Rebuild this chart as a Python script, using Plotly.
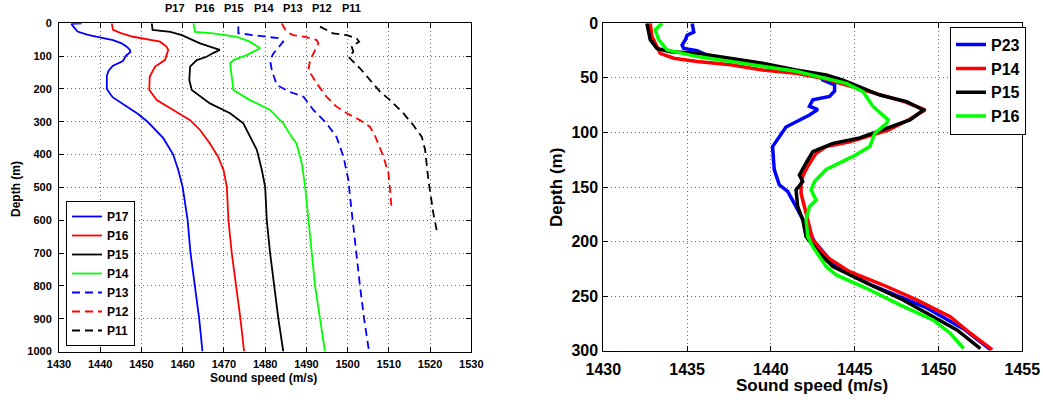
import plotly.graph_objects as go

W, H = 1043, 400

# ---------------- Left panel: sound speed profiles P17..P11 ----------------
P17_DEPTH = [0, 2, 10, 25, 35, 42, 51, 61, 72, 81, 88, 98, 115, 130, 145, 160, 200, 225, 250, 275, 300, 325, 350, 400, 450, 500, 550, 600, 700, 800, 900, 1000]
P17_SPEED = [1435.5, 1433, 1433.5, 1434.5, 1437, 1440, 1443.1, 1445.2, 1446.5, 1447.2, 1447.3, 1446.3, 1445.5, 1443, 1442, 1441.6, 1441.6, 1443, 1446, 1449, 1451.5, 1453.5, 1455.3, 1457.7, 1459, 1460, 1460.6, 1461.2, 1461.9, 1463, 1464, 1464.8]

P16_DEPTH = [0, 20, 30, 41, 56, 70, 81, 95, 112, 132, 163, 203, 234, 264, 295, 325, 346, 366, 407, 447, 498, 600, 700, 800, 900, 1000]
P16_SPEED = [1442.8, 1443.1, 1445, 1448, 1454.5, 1456, 1456.5, 1456.2, 1455.7, 1453.3, 1452, 1451.9, 1453.7, 1457.7, 1461.8, 1464.2, 1465.4, 1466.6, 1468.6, 1469.9, 1470.7, 1471.1, 1471.9, 1473, 1474, 1474.9]

P15_DEPTH = [0, 20, 26, 36, 61, 71, 81, 90, 102, 112, 132, 173, 203, 244, 274, 305, 346, 386, 447, 498, 600, 700, 800, 900, 1000]
P15_SPEED = [1452.5, 1452.7, 1457, 1459.8, 1464.2, 1466.6, 1469, 1467.5, 1465.8, 1463.4, 1461.8, 1461.6, 1462.2, 1466.6, 1471.5, 1474.7, 1476.3, 1478, 1479.2, 1480, 1480.4, 1481.2, 1482.2, 1483.2, 1484.4]

P14_DEPTH = [0, 26, 31, 41, 56, 76, 97, 112, 122, 163, 203, 234, 264, 305, 346, 366, 427, 498, 600, 700, 800, 900, 1000]
P14_SPEED = [1462.6, 1463, 1467.4, 1473.1, 1476.3, 1478.8, 1475.5, 1472.3, 1471.5, 1471.9, 1472.3, 1476.3, 1481.2, 1484.4, 1486.4, 1487.6, 1488.9, 1489.7, 1490.5, 1491.3, 1492.1, 1493.3, 1494.5]

P13_DEPTH = [10, 30, 36, 46, 56, 92, 112, 142, 188, 209, 224, 264, 305, 346, 407, 478, 529, 600, 700, 800, 900, 1000]
P13_SPEED = [1473.5, 1473.5, 1477.1, 1483.6, 1484.4, 1482, 1481.2, 1481.6, 1482.8, 1486, 1489.3, 1491.7, 1494.9, 1497.3, 1499, 1500.2, 1500.6, 1501.2, 1502, 1503, 1504, 1505.2]

P12_DEPTH = [0, 26, 36, 41, 51, 61, 92, 112, 142, 183, 224, 254, 274, 295, 315, 341, 407, 457, 508, 569]
P12_SPEED = [1484, 1485.2, 1486.8, 1489.7, 1492.5, 1492.9, 1491.7, 1490.9, 1490.5, 1492.5, 1494.9, 1497.3, 1499.8, 1503, 1505.4, 1506.6, 1508.7, 1509.9, 1510.3, 1510.7]

P11_DEPTH = [10, 31, 36, 46, 56, 71, 87, 102, 137, 173, 209, 234, 274, 310, 346, 386, 478, 579, 630]
P11_SPEED = [1493.3, 1496.5, 1499.8, 1502.2, 1502.8, 1501, 1501.4, 1500.2, 1503, 1505.4, 1507.9, 1510.3, 1513.5, 1515.9, 1518, 1518.8, 1519.6, 1520.8, 1521.6]

LEFT_NAMES = ["P17", "P16", "P15", "P14", "P13", "P12", "P11"]
TOP_LABELS = ["P17", "P16", "P15", "P14", "P13", "P12", "P11"]

# ---------------- Right panel: upper 300 m ----------------
P23_DEPTH = [0, 8, 11, 15, 20, 23, 25, 30, 35, 40, 45, 50, 52, 56.5, 62, 67, 70, 76, 79, 84, 89, 95, 113, 134, 148, 154, 168, 177, 200, 220, 240, 260, 280, 299]
P23_SPEED = [1435.3, 1435.4, 1435, 1434.9, 1434.7, 1434.8, 1435.6, 1436.3, 1438.2, 1440, 1441.8, 1443, 1443.1, 1443.8, 1443.8, 1443.5, 1442.5, 1442.3, 1442.8, 1442.3, 1441.7, 1440.9, 1440.1, 1440.2, 1440.5, 1441, 1441.5, 1441.8, 1442.6, 1443.7, 1446, 1449.2, 1451.5, 1453.1]

P14R_DEPTH = [0, 12, 27.5, 32, 35, 38, 42.8, 45.8, 50.4, 61, 66, 72, 79.4, 88.6, 97.8, 104, 108.5, 113, 119, 131, 140, 148, 156, 168, 180, 198.5, 213.8, 227.6, 239.8, 253.5, 268.8, 284, 299]
P14R_SPEED = [1432.8, 1432.9, 1433.4, 1434.2, 1435.6, 1437.6, 1439.5, 1441.5, 1443.1, 1445.5, 1446.5, 1448, 1449.2, 1448.2, 1447, 1445.6, 1444.7, 1443.3, 1442.7, 1442.2, 1441.9, 1441.8, 1441.8, 1442, 1442.2, 1442.5, 1443.3, 1444.7, 1446.7, 1448.7, 1450.7, 1451.9, 1453.2]

P15R_DEPTH = [0, 15, 23, 26, 27.5, 32, 36.6, 42.8, 47.4, 52, 59.5, 65.7, 71.8, 79.4, 88.6, 96, 105, 110, 117.6, 128, 139, 145, 152.7, 168, 180, 195.5, 210.7, 223, 238, 252, 268.8, 281, 298]
P15R_SPEED = [1432.6, 1432.8, 1433.2, 1434, 1435.6, 1437.6, 1439.5, 1441.5, 1443.3, 1444.3, 1445.5, 1446.5, 1448.1, 1449.1, 1448.3, 1447, 1445.3, 1443.7, 1442.5, 1442.1, 1441.7, 1441.9, 1441.5, 1441.6, 1441.9, 1442.1, 1442.9, 1443.7, 1445.7, 1447.7, 1449.7, 1451.1, 1452.5]

P16R_DEPTH = [0, 6, 15, 24.5, 30.5, 35, 39.8, 44, 55, 62.7, 76.4, 88.6, 91.6, 100.8, 113, 122, 134, 145, 152.7, 162, 168, 180, 195.5, 204.7, 223, 230.6, 242.8, 258, 272, 284, 298]
P16R_SPEED = [1433.5, 1433.1, 1433.3, 1433.8, 1435.6, 1437.6, 1439.5, 1441.5, 1444.5, 1445.5, 1446.1, 1447, 1446.9, 1446.2, 1445.9, 1444.9, 1443.3, 1442.6, 1442.4, 1442.7, 1442.3, 1442.1, 1442.2, 1442.5, 1443.3, 1443.9, 1445.7, 1447.7, 1449.7, 1450.7, 1451.5]

RIGHT_NAMES = ["P23", "P14", "P15", "P16"]

# ---------------- styling ----------------
FONT = "Arial, Liberation Sans, Helvetica, sans-serif"
BLUE, RED, BLACK, GREEN = "#0000FF", "#FF0000", "#000000", "#00FF00"
DASH = "8px,5px"

left_series = [
    (P17_DEPTH, P17_SPEED, BLUE, "solid"),
    (P16_DEPTH, P16_SPEED, RED, "solid"),
    (P15_DEPTH, P15_SPEED, BLACK, "solid"),
    (P14_DEPTH, P14_SPEED, GREEN, "solid"),
    (P13_DEPTH, P13_SPEED, BLUE, DASH),
    (P12_DEPTH, P12_SPEED, RED, DASH),
    (P11_DEPTH, P11_SPEED, BLACK, DASH),
]
right_series = [
    (P23_DEPTH, P23_SPEED, BLUE),
    (P14R_DEPTH, P14R_SPEED, RED),
    (P15R_DEPTH, P15R_SPEED, BLACK),
    (P16R_DEPTH, P16R_SPEED, GREEN),
]

fig = go.Figure()
for name, (d, v, c, dash) in zip(LEFT_NAMES, left_series):
    fig.add_trace(go.Scatter(x=v, y=d, mode="lines", name=name,
                             line=dict(color=c, width=1.8, dash=dash),
                             xaxis="x", yaxis="y", legend="legend"))
for name, (d, v, c) in zip(RIGHT_NAMES, right_series):
    fig.add_trace(go.Scatter(x=v, y=d, mode="lines", name=name,
                             line=dict(color=c, width=3.5),
                             xaxis="x2", yaxis="y2", legend="legend2"))

# plot-area geometry in pixels
L_X0, L_X1, L_Y0, L_Y1 = 59, 471.3, 23.3, 351.5
R_X0, R_X1, R_Y0, R_Y1 = 603.3, 1022.3, 23.3, 350.7

def px_x(p):
    return p / W

def px_y(p):
    return 1 - p / H

common_axis = dict(showline=True, linecolor="black", linewidth=1, mirror="ticks",
                   ticks="inside", ticklen=5, tickcolor="black", automargin=False,
                   showgrid=True, gridcolor="#6a6a6a", gridwidth=1, griddash="1px,3px",
                   zeroline=False, showspikes=False)

fig.update_layout(
    template="none",
    width=W, height=H, autosize=False,
    margin=dict(l=0, r=0, t=0, b=0, autoexpand=False),
    paper_bgcolor="white", plot_bgcolor="white",
    font=dict(family=FONT, color="black"),
    xaxis=dict(domain=[px_x(L_X0), px_x(L_X1)], range=[1430, 1530], dtick=10, anchor="y",
               tickfont=dict(size=11, weight="bold"), ticklabelstandoff=2, **common_axis),
    yaxis=dict(domain=[px_y(L_Y1), px_y(L_Y0)], range=[1000, 0], dtick=100, anchor="x",
               tickfont=dict(size=11, weight="bold"), ticklabelstandoff=4, **common_axis),
    xaxis2=dict(domain=[px_x(R_X0), px_x(R_X1)], range=[1430, 1455], dtick=5, anchor="y2",
                tickfont=dict(size=16, weight="bold"), ticklabelstandoff=4, **common_axis),
    yaxis2=dict(domain=[px_y(R_Y1), px_y(R_Y0)], range=[300, 0], dtick=50, anchor="x2",
                tickfont=dict(size=16, weight="bold"), ticklabelstandoff=1, **common_axis),
    showlegend=True,
    legend=dict(x=px_x(66), y=px_y(346), xanchor="left", yanchor="bottom",
                bgcolor="white", bordercolor="black", borderwidth=1,
                font=dict(size=12, weight="bold", family=FONT), tracegroupgap=0,
                itemclick=False, itemdoubleclick=False),
    legend2=dict(x=px_x(950), y=px_y(26.7), xanchor="left", yanchor="top",
                 bgcolor="white", bordercolor="black", borderwidth=1,
                 font=dict(size=16, weight="bold", family=FONT), tracegroupgap=0,
                 itemclick=False, itemdoubleclick=False),
)

annotations = []
# labels above the left panel
for i, lab in enumerate(TOP_LABELS):
    annotations.append(dict(text=lab, xref="paper", yref="paper",
                            x=px_x(175.3 + i * 29.4), y=px_y(8.5),
                            showarrow=False, xanchor="center", yanchor="middle",
                            font=dict(size=11, weight="bold")))
# axis titles
annotations += [
    dict(text="Sound speed (m/s)", xref="paper", yref="paper", x=px_x(263), y=px_y(378),
         showarrow=False, xanchor="center", yanchor="middle", font=dict(size=12, weight="bold")),
    dict(text="Depth (m)", xref="paper", yref="paper", x=px_x(16), y=px_y(189),
         showarrow=False, xanchor="center", yanchor="middle", textangle=-90,
         font=dict(size=12, weight="bold")),
    dict(text="Sound speed (m/s)", xref="paper", yref="paper", x=px_x(811.5), y=px_y(385),
         showarrow=False, xanchor="center", yanchor="middle", font=dict(size=17, weight="bold")),
    dict(text="Depth (m)", xref="paper", yref="paper", x=px_x(556), y=px_y(188),
         showarrow=False, xanchor="center", yanchor="middle", textangle=-90,
         font=dict(size=17, weight="bold")),
]
fig.update_layout(annotations=annotations)

fig.write_html("out.html")
